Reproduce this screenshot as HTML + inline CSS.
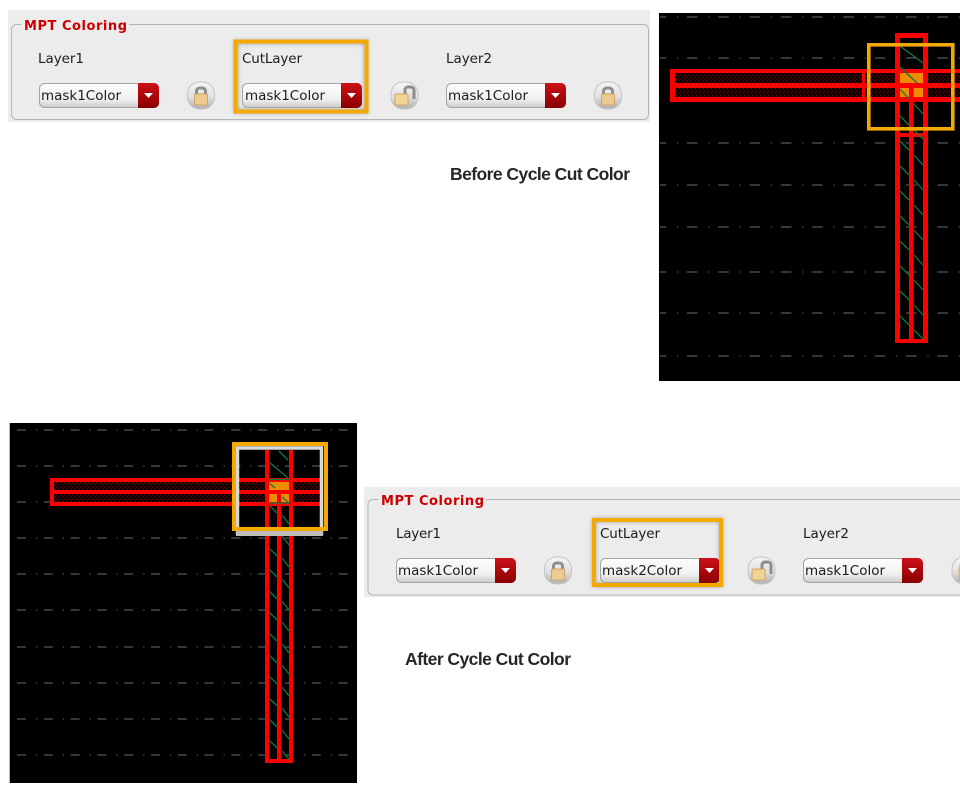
<!DOCTYPE html>
<html><head><meta charset="utf-8"><style>
html,body{margin:0;padding:0;background:#fff;width:960px;height:788px;overflow:hidden}
svg{display:block}
.lb{font:13.5px "DejaVu Sans",sans-serif;fill:#1c1c1c}
.cb{font:13.5px "DejaVu Sans",sans-serif;fill:#1c1c1c}
.lg{font:bold 13px "DejaVu Sans",sans-serif;fill:#cc0000}
.cap{font:bold 17.5px "Liberation Sans",sans-serif;fill:#262626}
</style></head><body>
<svg xmlns="http://www.w3.org/2000/svg" width="960" height="788" viewBox="0 0 960 788">
<defs>
<linearGradient id="gc" x1="0" y1="0" x2="0" y2="1"><stop offset="0" stop-color="#fdfdfd"/><stop offset=".65" stop-color="#f0f0f0"/><stop offset="1" stop-color="#cccccc"/></linearGradient>
<linearGradient id="gr" x1="0" y1="0" x2="0" y2="1"><stop offset="0" stop-color="#cc1018"/><stop offset="1" stop-color="#8a0000"/></linearGradient>
<linearGradient id="gl" x1="0" y1="0" x2="0" y2="1"><stop offset="0" stop-color="#f6f6f6"/><stop offset=".55" stop-color="#e0e0e0"/><stop offset="1" stop-color="#b0b0b0"/></linearGradient>
<pattern id="hx" width="4" height="4" patternUnits="userSpaceOnUse"><rect width="4" height="4" fill="#5a0000"/><circle cx="1" cy="1" r="1.4" fill="#000"/><circle cx="3" cy="3" r="1.4" fill="#000"/></pattern>
<filter id="bl" x="-20%" y="-20%" width="140%" height="140%"><feGaussianBlur stdDeviation="2"/></filter>
<g id="combo">
<rect x=".5" y=".5" width="119" height="24" rx="5" fill="url(#gc)" stroke="#a4a4a4"/>
<path d="M99 0h16a5 5 0 0 1 5 5v15a5 5 0 0 1-5 5h-16z" fill="url(#gr)"/>
<path d="M105 10h9l-4.500 5z" fill="#fff"/>
</g>
<g id="lock">
<rect x="0" y="0" width="27" height="27" rx="12" fill="url(#gl)" stroke="#c4c4c4"/>
<path d="M9 13v-4a3 3 0 0 1 3-3h3a3 3 0 0 1 3 3v4" fill="none" stroke="#8d8d8d" stroke-width="3"/>
<rect x="7" y="12" width="13" height="11" rx="1" fill="#edcb90" stroke="#d0a468"/>
</g>
<g id="olock">
<rect x="0" y="0" width="27" height="27" rx="12" fill="url(#gl)" stroke="#c4c4c4"/>
<path d="M14 12v-4a3 3 0 0 1 3-3h3a3 3 0 0 1 3 3v9" fill="none" stroke="#8d8d8d" stroke-width="3"/>
<rect x="4" y="12" width="13" height="11" rx="1" fill="#f2d596" stroke="#d0a468"/>
</g>
</defs>

<!-- Top panel -->
<rect x="8" y="10" width="642" height="112" fill="#ececec"/>
<rect x="11.500" y="24.500" width="637" height="95" rx="5" fill="none" stroke="#b4b4b4"/>
<rect x="21" y="18" width="108" height="12" fill="#ececec"/>
<text class="lg" x="24" y="30" textLength="103">MPT Coloring</text>
<text class="lb" x="38" y="63" textLength="46">Layer1</text>
<text class="lb" x="242" y="63" textLength="60">CutLayer</text>
<text class="lb" x="446" y="63" textLength="46">Layer2</text>
<rect x="236" y="42" width="130" height="69" fill="none" stroke="#777" stroke-width="4" opacity=".6" filter="url(#bl)"/>
<use href="#combo" x="39" y="83"/><use href="#combo" x="242" y="83"/><use href="#combo" x="446" y="83"/>
<text class="cb" x="41" y="100" textLength="80">mask1Color</text>
<text class="cb" x="245" y="100" textLength="80">mask1Color</text>
<text class="cb" x="448" y="100" textLength="80">mask1Color</text>
<use href="#lock" x="187.500" y="82"/><use href="#olock" x="391" y="82"/><use href="#lock" x="594.500" y="82"/>
<rect x="235.500" y="41.500" width="131" height="70" fill="none" stroke="#f5a800" stroke-width="4"/>
<text class="cap" x="450" y="180" textLength="180">Before Cycle Cut Color</text>

<!-- Top-right layout -->
<rect x="659" y="13" width="301" height="368" fill="#000"/>
<g stroke="#4f5864" stroke-width="1.300" fill="none">
<g stroke-dasharray="10.500 20.800" stroke-dashoffset="4.300">
<path d="M660 17H960M660 58H960M660 143H960M660 185H960M660 227H960M660 272H960M660 313H960M660 356H960"/>
</g>
<g stroke-dasharray="1.200 30.100">
<path d="M677 17H960M677 58H960M677 143H960M677 185H960M677 227H960M677 272H960M677 313H960M677 356H960"/>
</g>
</g>
<rect x="673" y="72" width="287" height="28" fill="url(#hx)"/>
<rect x="899" y="70" width="24" height="32" fill="#f08c00"/>
<g fill="#fa0000">
<path d="M670 69H960V73H675V83H960V88H675V97H960V102H670Z"/>
<rect x="862" y="69" width="3" height="33"/>
<rect x="895" y="33" width="5" height="310"/>
<rect x="923" y="33" width="5" height="310"/>
<rect x="895" y="33" width="33" height="5"/>
<rect x="895" y="339" width="33" height="4"/>
<rect x="909" y="85" width="4.500" height="256"/>
<rect x="899" y="133" width="26" height="4"/>
</g>
<g stroke="#0f7a42" stroke-width="1.300" fill="none">
<path d="M900 46L923 63M900 67L917 83M900 89L909 99M914 104L923 114M900 116L909 125M914 130L923 139M900 141L909 150M914 155L923 165M900 166L909 175M914 180L923 190M900 191L909 200M914 205L923 215M900 216L909 225M914 230L923 240M900 241L909 250M914 255L923 265M900 266L909 275M914 280L923 290M900 291L909 300M914 305L923 315M900 316L909 325M914 330L923 339"/>
</g>
<rect x="868.800" y="44.800" width="84" height="84" fill="none" stroke="#f5a800" stroke-width="3.600"/>

<!-- Bottom-left layout -->
<rect x="9" y="423" width="348" height="360" fill="#000"/>
<rect x="9" y="423" width="1" height="360" fill="#bbb"/>
<g stroke="#4f5864" stroke-width="1.300" fill="none">
<g stroke-dasharray="9 17.800">
<path d="M17 430H357M17 466H357M17 502H357M17 538H357M17 574H357M17 610H357M17 647H357M17 683H357M17 719H357M17 755H357"/>
</g>
<g stroke-dasharray="1.200 25.600">
<path d="M36 430H357M36 466H357M36 502H357M36 538H357M36 574H357M36 610H357M36 647H357M36 683H357M36 719H357M36 755H357"/>
</g>
</g>
<rect x="53" y="481" width="266" height="23" fill="url(#hx)"/>
<rect x="269" y="479" width="20" height="24" fill="#f08c00"/>
<g fill="#fa0000">
<path d="M50 478H320V482H54V490H320V494H54V502H320V506H50Z"/>
<rect x="265" y="450" width="4" height="313"/>
<rect x="289" y="450" width="4" height="313"/>
<rect x="277" y="490" width="4" height="273"/>
<rect x="265" y="759" width="28" height="4"/>
</g>
<g stroke="#0f7a42" stroke-width="1.300" fill="none">
<path d="M279 451L288 460M269 462L288 478M269 483L275 488M282 497L289 503M269 505L277 513M282 515L289 524M269 526L277 534M282 536L289 545M269 548L277 556M282 558L289 567M269 569L277 577M282 579L289 588M269 591L277 599M282 601L289 610M269 612L277 620M282 622L289 631M269 633L277 641M282 644L289 653M269 655L277 663M282 665L289 674M269 676L277 684M282 687L289 696M269 698L277 706M282 708L289 717M269 719L277 727M282 730L289 739M269 740L277 748M282 751L289 759"/>
<path d="M269 479.500H289M269 503H289"/>
</g>
<rect x="236" y="443" width="87" height="4" fill="#555"/>
<path d="M237.500 535V448H321.500V535" fill="none" stroke="#d8d8d8" stroke-width="3.500"/>
<rect x="236" y="530" width="87" height="6" fill="#bdbdbd"/>
<rect x="234" y="444" width="92" height="85" fill="none" stroke="#f5a800" stroke-width="4"/>

<!-- Bottom panel -->
<rect x="364" y="487" width="596" height="110" fill="#ececec"/>
<path d="M960 499.500H373a5 5 0 0 0-5 5V590a5 5 0 0 0 5 5H960" fill="none" stroke="#b4b4b4"/>
<rect x="378" y="493" width="108" height="12" fill="#ececec"/>
<text class="lg" x="381" y="505" textLength="103">MPT Coloring</text>
<text class="lb" x="396" y="538" textLength="45">Layer1</text>
<text class="lb" x="600" y="538" textLength="60">CutLayer</text>
<text class="lb" x="803" y="538" textLength="46">Layer2</text>
<rect x="594" y="520" width="127" height="65" fill="none" stroke="#777" stroke-width="4" opacity=".6" filter="url(#bl)"/>
<use href="#combo" x="396" y="558"/><use href="#combo" x="600" y="558"/><use href="#combo" x="803" y="558"/>
<text class="cb" x="398" y="575" textLength="80">mask1Color</text>
<text class="cb" x="602" y="575" textLength="80">mask2Color</text>
<text class="cb" x="805" y="575" textLength="80">mask1Color</text>
<use href="#lock" x="544.500" y="557"/><use href="#olock" x="748" y="557"/><use href="#lock" x="952" y="557"/>
<rect x="594" y="520" width="127" height="65" fill="none" stroke="#f5a800" stroke-width="4"/>
<text class="cap" x="405" y="665" textLength="166">After Cycle Cut Color</text>
</svg>
</body></html>
